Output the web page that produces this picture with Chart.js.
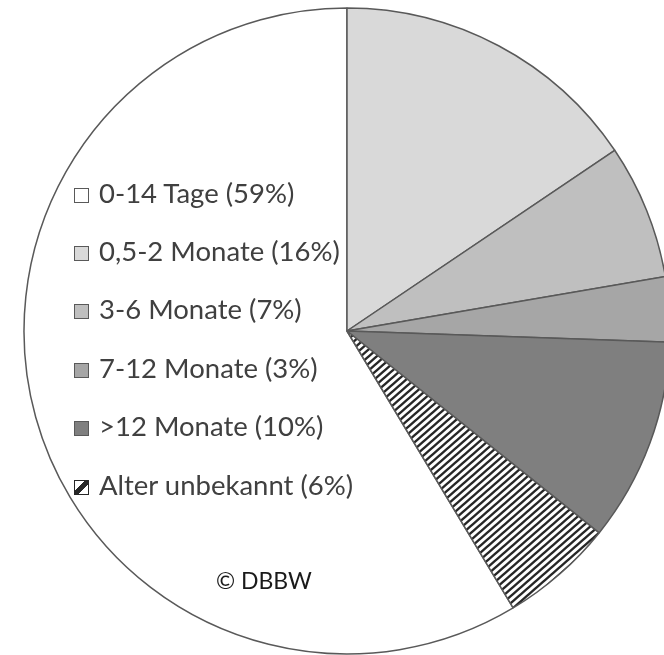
<!DOCTYPE html>
<html>
<head>
<meta charset="utf-8">
<script src="https://cdn.jsdelivr.net/npm/chart.js@4.4.1/dist/chart.umd.min.js"></script>
<style>
  html, body { margin: 0; padding: 0; background: #ffffff; overflow: hidden; }
  #wrap { position: relative; width: 664px; height: 655px; overflow: hidden; }
  #c { position: absolute; left: 0; top: 0; }
  .leg { position: absolute; left: 74px; font-family: Lato, sans-serif; font-size: 27.5px; color: #404040; white-space: nowrap; line-height: 30px; }
  .leg .box { position: absolute; left: 0; top: 10px; width: 13px; height: 13px; border: 1.5px solid #595959; box-sizing: content-box; }
  .leg .txt { position: absolute; left: 25px; top: 0; }
  #copy { position: absolute; left: 216px; top: 565px; font-family: Lato, sans-serif; font-size: 23px; color: #1a1a1a; line-height: 30px; white-space: nowrap; }
</style>
</head>
<body>
<div id="wrap">
  <canvas id="c" width="664" height="655"></canvas>
  <div id="legend"></div>
  <div id="copy">© DBBW</div>
</div>
<script>
// Categories in legend order
const categories = ['0-14 Tage', '0,5-2 Monate', '3-6 Monate', '7-12 Monate', '>12 Monate', 'Alter unbekannt'];
// Percentages printed in the legend
const printedPercents = [59, 16, 7, 3, 10, 6];
// Slice shares
const sliceShares = [58.6, 15.55, 6.75, 3.25, 10.2, 5.65];
const sliceColors = ['#ffffff', '#d9d9d9', '#bfbfbf', '#a6a6a6', '#7f7f7f', 'HATCH'];

function makeHatch() {
  const W = 8, H = 7;
  const pc = document.createElement('canvas');
  pc.width = W; pc.height = H;
  const p = pc.getContext('2d');
  p.fillStyle = '#ffffff';
  p.fillRect(0, 0, W, H);
  p.strokeStyle = '#262626';
  p.lineWidth = 2.4;
  for (let k = -1; k <= 2; k++) {
    p.beginPath();
    p.moveTo(-W, k * H + H);
    p.lineTo(2 * W, k * H - 2 * H);
    p.stroke();
  }
  return p.createPattern(pc, 'repeat');
}

const ctx = document.getElementById('c').getContext('2d');
const hatch = makeHatch();
const bg = sliceColors.map(c => c === 'HATCH' ? hatch : c);
const total = sliceShares.reduce((a, b) => a + b, 0);

new Chart(ctx, {
  type: 'pie',
  data: {
    labels: categories.map((c, i) => c + ' (' + printedPercents[i] + '%)'),
    datasets: [{
      data: sliceShares,
      backgroundColor: bg,
      borderColor: '#595959',
      borderWidth: 1.5,
      clip: false
    }]
  },
  options: {
    responsive: false,
    animation: false,
    rotation: -(sliceShares[0] / total) * 360,
    radius: 323,
    layout: { padding: { left: 30, top: 7, right: 0, bottom: 0 } },
    plugins: {
      legend: { display: false },
      tooltip: { enabled: false }
    }
  }
});

// HTML legend
const legendTops = [178, 236, 294, 353, 411, 470];
const legend = document.getElementById('legend');
categories.forEach((c, i) => {
  const d = document.createElement('div');
  d.className = 'leg';
  d.style.top = legendTops[i] + 'px';
  const b = document.createElement('span');
  b.className = 'box';
  if (sliceColors[i] === 'HATCH') {
    b.style.background = 'linear-gradient(135deg, #ffffff 36%, #262626 36%, #262626 64%, #ffffff 64%)';
    b.style.borderColor = '#262626';
  } else {
    b.style.background = sliceColors[i];
  }
  const t = document.createElement('span');
  t.className = 'txt';
  t.textContent = c + ' (' + printedPercents[i] + '%)';
  d.appendChild(b);
  d.appendChild(t);
  legend.appendChild(d);
});
</script>
</body>
</html>
